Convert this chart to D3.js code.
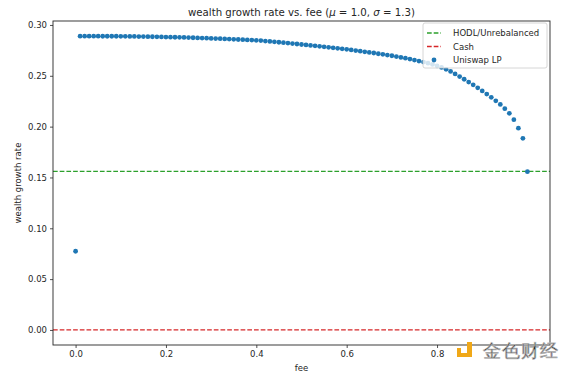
<!DOCTYPE html>
<html>
<head>
<meta charset="utf-8">
<script src="https://cdn.jsdelivr.net/npm/d3@7"></script>
<style>
  body { margin: 0; background: #fff; }
  text { font-family: "DejaVu Sans", sans-serif; fill: #262626; }
</style>
</head>
<body>
<div id="chart"></div>
<script>
// fee values (x) for the Uniswap LP scatter
const fees = [
  0.00, 0.01, 0.02, 0.03, 0.04, 0.05, 0.06, 0.07, 0.08, 0.09,
  0.10, 0.11, 0.12, 0.13, 0.14, 0.15, 0.16, 0.17, 0.18, 0.19,
  0.20, 0.21, 0.22, 0.23, 0.24, 0.25, 0.26, 0.27, 0.28, 0.29,
  0.30, 0.31, 0.32, 0.33, 0.34, 0.35, 0.36, 0.37, 0.38, 0.39,
  0.40, 0.41, 0.42, 0.43, 0.44, 0.45, 0.46, 0.47, 0.48, 0.49,
  0.50, 0.51, 0.52, 0.53, 0.54, 0.55, 0.56, 0.57, 0.58, 0.59,
  0.60, 0.61, 0.62, 0.63, 0.64, 0.65, 0.66, 0.67, 0.68, 0.69,
  0.70, 0.71, 0.72, 0.73, 0.74, 0.75, 0.76, 0.77, 0.78, 0.79,
  0.80, 0.81, 0.82, 0.83, 0.84, 0.85, 0.86, 0.87, 0.88, 0.89,
  0.90, 0.91, 0.92, 0.93, 0.94, 0.95, 0.96, 0.97, 0.98, 0.99,
  1.00
];

// wealth growth rate, one per fee
const lpGrowth = [
  0.0774, 0.2890, 0.2890, 0.2890, 0.2890, 0.2890, 0.2889, 0.2889, 0.2889, 0.2889,
  0.2888, 0.2888, 0.2887, 0.2887, 0.2886, 0.2886, 0.2885, 0.2884, 0.2883, 0.2882,
  0.2881, 0.2880, 0.2879, 0.2878, 0.2877, 0.2876, 0.2874, 0.2873, 0.2871, 0.2870,
  0.2868, 0.2866, 0.2865, 0.2863, 0.2861, 0.2859, 0.2857, 0.2855, 0.2853, 0.2851,
  0.2849, 0.2846, 0.2842, 0.2838, 0.2834, 0.2830, 0.2826, 0.2822, 0.2817, 0.2813,
  0.2808, 0.2804, 0.2799, 0.2795, 0.2790, 0.2785, 0.2780, 0.2775, 0.2770, 0.2765,
  0.2760, 0.2754, 0.2748, 0.2742, 0.2736, 0.2730, 0.2724, 0.2717, 0.2711, 0.2704,
  0.2697, 0.2689, 0.2681, 0.2673, 0.2664, 0.2655, 0.2645, 0.2635, 0.2624, 0.2612,
  0.2598, 0.2582, 0.2564, 0.2543, 0.2518, 0.2492, 0.2466, 0.2438, 0.2411, 0.2382,
  0.2351, 0.2320, 0.2288, 0.2254, 0.2218, 0.2177, 0.2131, 0.2068, 0.1985, 0.1885,
  0.1557
];

const hodlRate = 0.156;
const cashRate = 0.0;

const xTicks = [0.0, 0.2, 0.4, 0.6, 0.8];
const yTicks = [0.00, 0.05, 0.10, 0.15, 0.20, 0.25, 0.30];

const legendLabels = ["HODL/Unrebalanced", "Cash", "Uniswap LP"];
const colors = { hodl: "#2ca02c", cash: "#d62728", lp: "#1f77b4" };

const W = 569, H = 375;
const plot = { left: 53, right: 550, top: 21, bottom: 345 };

const svg = d3.select("#chart").append("svg")
    .attr("width", W)
    .attr("height", H);

const x = d3.scaleLinear().domain([-0.05, 1.05]).range([plot.left, plot.right]);
const y = d3.scaleLinear().domain([-0.0148, 0.3039]).range([plot.bottom, plot.top]);

// horizontal reference lines
svg.append("line")
    .attr("x1", plot.left).attr("x2", plot.right)
    .attr("y1", y(hodlRate)).attr("y2", y(hodlRate))
    .attr("stroke", colors.hodl).attr("stroke-width", 1.3)
    .attr("stroke-dasharray", "4.7,2");

svg.append("line")
    .attr("x1", plot.left).attr("x2", plot.right)
    .attr("y1", y(cashRate)).attr("y2", y(cashRate))
    .attr("stroke", colors.cash).attr("stroke-width", 1.3)
    .attr("stroke-dasharray", "4.7,2");

// scatter
svg.append("g")
    .selectAll("circle")
    .data(fees.map((f, i) => [f, lpGrowth[i]]))
    .join("circle")
    .attr("cx", d => x(d[0]))
    .attr("cy", d => y(d[1]))
    .attr("r", 2.4)
    .attr("fill", colors.lp);

// axes
const xAxis = svg.append("g")
    .attr("transform", `translate(0,${plot.bottom})`)
    .call(d3.axisBottom(x).tickValues(xTicks).tickFormat(d3.format(".1f")).tickSizeOuter(0).tickSize(3).tickPadding(3));

const yAxis = svg.append("g")
    .attr("transform", `translate(${plot.left},0)`)
    .call(d3.axisLeft(y).tickValues(yTicks).tickFormat(d3.format(".2f")).tickSizeOuter(0).tickSize(3).tickPadding(3));

[xAxis, yAxis].forEach(a => {
    a.select(".domain").remove();
    a.selectAll(".tick line").attr("stroke", "#262626").attr("stroke-width", 0.8);
    a.selectAll(".tick text")
        .attr("font-family", "DejaVu Sans")
        .attr("font-size", 8.5)
        .attr("fill", "#262626");
});

// frame
svg.append("rect")
    .attr("x", plot.left).attr("y", plot.top)
    .attr("width", plot.right - plot.left)
    .attr("height", plot.bottom - plot.top)
    .attr("fill", "none")
    .attr("stroke", "#262626")
    .attr("stroke-width", 0.9);

// title
const title = svg.append("text")
    .attr("x", (plot.left + plot.right) / 2)
    .attr("y", 16)
    .attr("text-anchor", "middle")
    .attr("font-size", 10.2);
title.append("tspan").text("wealth growth rate vs. fee (");
title.append("tspan").attr("font-style", "italic").text("μ");
title.append("tspan").text(" = 1.0, ");
title.append("tspan").attr("font-style", "italic").text("σ");
title.append("tspan").text(" = 1.3)");

// axis labels
svg.append("text")
    .attr("x", (plot.left + plot.right) / 2)
    .attr("y", 371)
    .attr("text-anchor", "middle")
    .attr("font-size", 8.5)
    .text("fee");

svg.append("text")
    .attr("transform", `translate(21,${(plot.top + plot.bottom) / 2}) rotate(-90)`)
    .attr("text-anchor", "middle")
    .attr("font-size", 8.5)
    .text("wealth growth rate");

// legend
const lg = svg.append("g").attr("transform", "translate(423,23)");
lg.append("rect")
    .attr("width", 124).attr("height", 45)
    .attr("rx", 2)
    .attr("fill", "#fff").attr("fill-opacity", 0.8)
    .attr("stroke", "#cccccc").attr("stroke-width", 0.8);

const rows = [
    { label: legendLabels[0], kind: "line", color: colors.hodl },
    { label: legendLabels[1], kind: "line", color: colors.cash },
    { label: legendLabels[2], kind: "dot", color: colors.lp }
];
rows.forEach((r, i) => {
    const cy = 10 + i * 13.5;
    if (r.kind === "line") {
        lg.append("line")
            .attr("x1", 4).attr("x2", 18)
            .attr("y1", cy).attr("y2", cy)
            .attr("stroke", r.color).attr("stroke-width", 1.3)
            .attr("stroke-dasharray", "4.7,2");
    } else {
        lg.append("circle").attr("cx", 11).attr("cy", cy).attr("r", 2.4).attr("fill", r.color);
    }
    lg.append("text")
        .attr("x", 30).attr("y", cy + 3)
        .attr("font-size", 8.5)
        .text(r.label);
});

// watermark
const wm = svg.append("g").attr("transform", "translate(457,342)");
wm.append("rect").attr("x", 0).attr("y", 6).attr("width", 4).attr("height", 5).attr("fill", "#f0a818");
wm.append("path").attr("d", "M10,0 H15 V15 H0 V11 H10 Z").attr("fill", "#f0a818");
wm.append("text")
    .attr("x", 26).attr("y", 14.5)
    .attr("font-family", "Noto Sans CJK SC")
    .attr("font-size", 18)
    .attr("letter-spacing", 1)
    .attr("fill", "#eeeeee")
    .attr("stroke", "#b8b8b8")
    .attr("stroke-width", 0.7)
    .text("金色财经");
</script>
</body>
</html>
